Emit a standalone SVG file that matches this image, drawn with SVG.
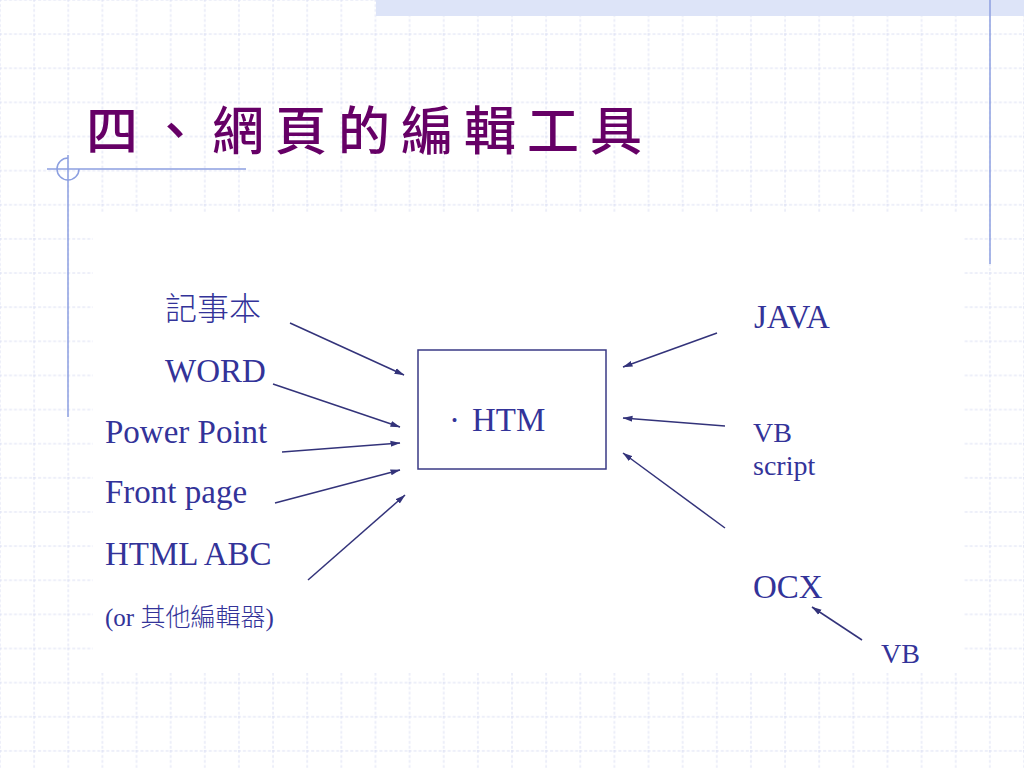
<svg xmlns="http://www.w3.org/2000/svg" width="1024" height="768" viewBox="0 0 1024 768">
<defs>
<style>
.grid{stroke:#dbdff3;stroke-width:1;stroke-dasharray:3 2;fill:none}
.deco{stroke:#8c9fe0;stroke-width:1.5;fill:none}
.title{font-family:"Noto Sans CJK TC","Noto Sans CJK SC",sans-serif;font-size:52px;fill:#660066;letter-spacing:11px;font-weight:500}
.lbl{font-family:"Liberation Serif","Noto Sans CJK TC",serif;font-size:33px;fill:#333399}
.sm{font-size:28px}
.xs{font-size:25px}
.cjk{font-family:"Noto Sans CJK TC","Noto Sans CJK SC",sans-serif;font-weight:300}
.box{fill:none;stroke:#3a3a85;stroke-width:1.5}
.arr{stroke:#33337a;stroke-width:1.5;fill:none;marker-end:url(#ah)}
</style>
<pattern id="gp" width="34.1333" height="34.1333" patternUnits="userSpaceOnUse" x="-1" y="-1">
<path class="grid" d="M0 1H34.1333M1 0V34.1333"/>
</pattern>
<marker id="ah" markerUnits="userSpaceOnUse" markerWidth="10" markerHeight="7" refX="9.5" refY="3.5" orient="auto">
<path d="M0 0.5L10 3.5L0 6.5z" fill="#33337a"/>
</marker>
</defs>
<g id="background">
<rect width="1024" height="768" fill="#ffffff"/>
<rect width="1024" height="768" fill="url(#gp)"/>
<rect x="376" y="0" width="648" height="16" fill="#dde4f8"/>
<rect x="93" y="212" width="871" height="461" fill="#ffffff"/>
<line class="deco" x1="990" y1="0" x2="990" y2="264"/>
<line class="deco" x1="47" y1="169" x2="246" y2="169"/>
<line class="deco" x1="68" y1="155" x2="68" y2="417"/>
<path class="deco" d="M68 158A11 11 0 1 0 79 169"/>
</g>
<g id="title">
<text class="title" x="86" y="150">四、網頁的編輯工具</text>
</g>
<g id="n-notepad"><text class="lbl cjk" x="165" y="320" style="font-size:32px">記事本</text></g>
<g id="n-word"><text class="lbl" x="165" y="382">WORD</text></g>
<g id="n-powerpoint"><text class="lbl" x="105" y="443">Power Point</text></g>
<g id="n-frontpage"><text class="lbl" x="105" y="503">Front page</text></g>
<g id="n-htmlabc"><text class="lbl" x="105" y="565">HTML ABC</text></g>
<g id="n-other"><text class="lbl xs" x="105" y="626">(or <tspan class="cjk">其他編輯器</tspan>)</text></g>
<g id="n-htm">
<rect class="box" x="418" y="350" width="188" height="119"/>
<text class="lbl" y="431"><tspan x="449">·</tspan><tspan x="472">HTM</tspan></text>
</g>
<g id="n-java"><text class="lbl" x="754" y="328">JAVA</text></g>
<g id="n-vbscript"><text class="lbl sm" x="753" y="442">VB</text><text class="lbl sm" x="753" y="475">script</text></g>
<g id="n-ocx"><text class="lbl" x="753" y="598">OCX</text></g>
<g id="n-vb"><text class="lbl sm" x="881" y="663">VB</text></g>
<g id="connectors">
<line class="arr" x1="290" y1="323" x2="404" y2="375"/>
<line class="arr" x1="273" y1="384" x2="400" y2="427"/>
<line class="arr" x1="282" y1="452" x2="400" y2="443"/>
<line class="arr" x1="275" y1="503" x2="400" y2="470"/>
<line class="arr" x1="308" y1="580" x2="405" y2="495"/>
<line class="arr" x1="717" y1="333" x2="623" y2="367"/>
<line class="arr" x1="725" y1="426" x2="623" y2="418"/>
<line class="arr" x1="725" y1="528" x2="623" y2="453"/>
<line class="arr" x1="862" y1="640" x2="812" y2="607"/>
</g>
</svg>
